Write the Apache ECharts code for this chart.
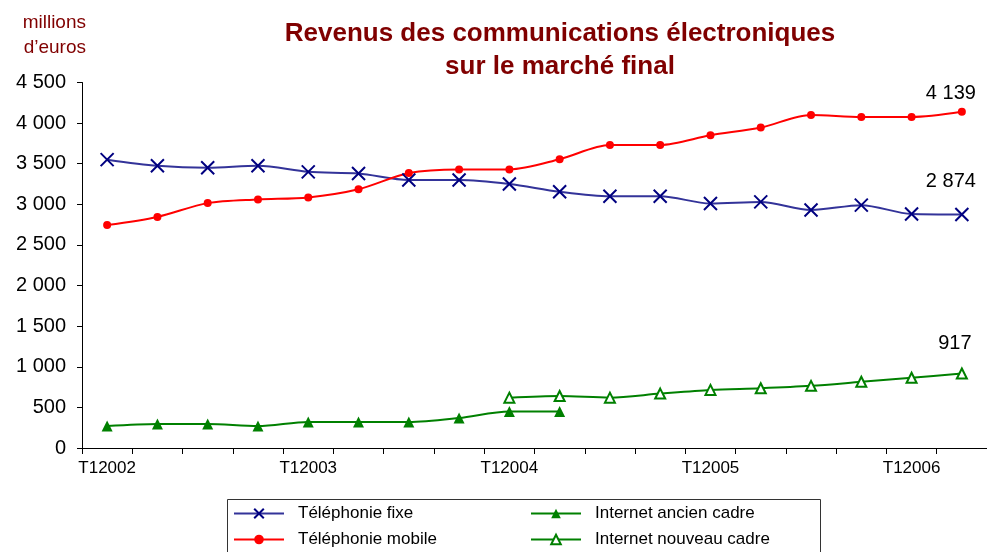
<!DOCTYPE html>
<html>
<head>
<meta charset="utf-8">
<script src="https://cdn.jsdelivr.net/npm/echarts@6/dist/echarts.min.js"></script>
<style>
  html, body {margin: 0; padding: 0; background: #fff;}
  #chart {width: 987px; height: 552px;}
</style>
</head>
<body>
<div id="chart"></div>
<script>
// trimestres T1 2002 -> T2 2006
const categories = [
  'T12002', 'T22002', 'T32002', 'T42002',
  'T12003', 'T22003', 'T32003', 'T42003',
  'T12004', 'T22004', 'T32004', 'T42004',
  'T12005', 'T22005', 'T32005', 'T42005',
  'T12006', 'T22006'
]

// millions d'euros
const fixe = [3550, 3475, 3450, 3475, 3400, 3380, 3300, 3300, 3250, 3155, 3100, 3100, 3010, 3030, 2930, 2990, 2880, 2874]
const mobile = [2745, 2845, 3015, 3060, 3085, 3185, 3385, 3430, 3430, 3555, 3730, 3730, 3850, 3945, 4100, 4075, 4075, 4139]
const internetAncien = [270, 295, 295, 270, 320, 320, 320, 370, 450, 450, null, null, null, null, null, null, null, null]
const internetNouveau = [null, null, null, null, null, null, null, null, 620, 640, 620, 670, 715, 735, 765, 815, 865, 917]

const yTicks = [0, 500, 1000, 1500, 2000, 2500, 3000, 3500, 4000, 4500]

const fmt = (v) => String(v).replace(/\B(?=(\d{3})+(?!\d))/g, ' ')
const FONT = '"Liberation Sans", Arial, sans-serif'

// etiquette sur le dernier point
const withLastLabel = (arr, offset) => arr.map((v, i) => {
  if (i !== arr.length - 1) return v
  return {
    value: v,
    label: {
      show: true, position: 'top', distance: 5, offset: offset,
      formatter: (p) => fmt(p.value), fontSize: 20, color: '#000', fontFamily: FONT
    }
  }
})

const legendStyle = {
  orient: 'vertical', top: 505, height: 100, padding: 0,
  itemWidth: 50, itemHeight: 12, itemGap: 9,
  textStyle: {fontSize: 17, color: '#000', padding: [0, 0, 0, 9], fontFamily: FONT}
}

const chart = echarts.init(document.getElementById('chart'))

const option = {
  animation: false,
  backgroundColor: '#fff',
  textStyle: {fontFamily: FONT},
  title: {
    text: 'Revenus des communications électroniques\nsur le marché final',
    left: 555,
    top: 12,
    textAlign: 'center',
    textStyle: {fontSize: 26, fontWeight: 'bold', color: '#800000', lineHeight: 33, fontFamily: FONT}
  },
  graphic: [
    {
      type: 'text', right: 987 - 86, top: 10,
      style: {text: 'millions\nd’euros', fill: '#800000', font: '19px ' + FONT, textAlign: 'right', lineHeight: 25}
    },
    {
      type: 'rect', left: 225, top: 497,
      shape: {width: 593, height: 60},
      style: {fill: 'none', stroke: '#333', lineWidth: 1}
    }
  ],
  grid: {left: 82, right: 0, top: 82.5, bottom: 104, containLabel: false},
  legend: [
    Object.assign({data: ['Téléphonie fixe', 'Téléphonie mobile'], left: 233}, legendStyle),
    Object.assign({data: ['Internet ancien cadre', 'Internet nouveau cadre'], left: 530}, legendStyle)
  ],
  xAxis: {
    type: 'category',
    data: categories,
    boundaryGap: true,
    axisLine: {lineStyle: {color: '#000', width: 1}},
    axisTick: {show: true, interval: 0, length: 6, lineStyle: {color: '#000'}},
    axisLabel: {interval: 3, fontSize: 17, color: '#000', margin: 12, fontFamily: FONT},
    splitLine: {show: false}
  },
  yAxis: {
    type: 'value',
    min: yTicks[0],
    max: yTicks[yTicks.length - 1],
    interval: 500,
    axisLine: {show: true, lineStyle: {color: '#000', width: 1}},
    axisTick: {show: true, length: 5, lineStyle: {color: '#000'}},
    axisLabel: {fontSize: 20, color: '#000', margin: 16, formatter: fmt, fontFamily: FONT},
    splitLine: {show: false}
  },
  series: [
    {
      name: 'Téléphonie fixe',
      type: 'line',
      data: withLastLabel(fixe, [-11, -11]),
      smooth: 0.3,
      symbol: 'path://M0,0L10,10M10,0L0,10',
      symbolSize: 13,
      lineStyle: {color: '#333399', width: 2},
      itemStyle: {color: '#000080', borderColor: '#000080', borderWidth: 2}
    },
    {
      name: 'Téléphonie mobile',
      type: 'line',
      data: withLastLabel(mobile, [-11, 1]),
      smooth: 0.3,
      symbol: 'circle',
      symbolSize: 8,
      lineStyle: {color: '#ff0000', width: 2},
      itemStyle: {color: '#ff0000', borderWidth: 0}
    },
    {
      name: 'Internet ancien cadre',
      type: 'line',
      data: internetAncien,
      smooth: 0.3,
      symbol: 'triangle',
      symbolSize: 11,
      lineStyle: {color: '#008000', width: 2},
      itemStyle: {color: '#008000', borderWidth: 0}
    },
    {
      name: 'Internet nouveau cadre',
      type: 'line',
      data: withLastLabel(internetNouveau, [-7, -9]),
      smooth: 0.3,
      symbol: 'triangle',
      symbolSize: 10,
      lineStyle: {color: '#008000', width: 2},
      itemStyle: {color: '#fff', borderColor: '#008000', borderWidth: 2}
    }
  ]
}

chart.setOption(option)
</script>
</body>
</html>
